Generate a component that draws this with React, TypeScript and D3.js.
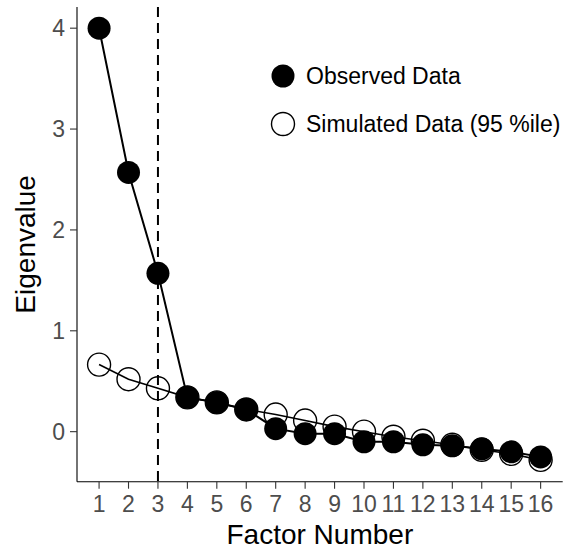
import React from "react";
import * as d3 from "d3";

const factors = [1, 2, 3, 4, 5, 6, 7, 8, 9, 10, 11, 12, 13, 14, 15, 16];
const observed = [4.0, 2.57, 1.57, 0.34, 0.29, 0.22, 0.03, -0.02, -0.02, -0.1, -0.1, -0.13, -0.14, -0.17, -0.2, -0.25];
const simulated = [0.665, 0.52, 0.43, 0.34, 0.29, 0.22, 0.17, 0.11, 0.05, 0.0, -0.05, -0.09, -0.13, -0.18, -0.22, -0.28];
const yTicks = [0, 1, 2, 3, 4];
const cutoff = 3;
const legendLabels = ["Observed Data", "Simulated Data (95 %ile)"];

export default function App() {
  const W = 574, H = 550;
  const left = 77, right = 562.7, top = 7, bottom = 481.7;
  const x = d3.scaleLinear().domain([0.25, 16.75]).range([left, right]);
  const y = d3.scaleLinear().domain([-0.496, 4.21]).range([bottom, top]);
  const line = d3.line<number>().x((_, i) => x(factors[i])).y((d) => y(d));
  const font = "Liberation Sans, Arial, sans-serif";
  const r = 11.5;
  const tickFs = 23;
  const titleFs = 28;
  return (
    <svg width={W} height={H} style={{ position: "absolute", left: 0, top: 0 }} fontFamily={font}>
      <rect width={W} height={H} fill="#fff" />
      <line x1={left} x2={left} y1={top} y2={bottom} stroke="#000" strokeWidth={1.1} />
      <line x1={left} x2={right} y1={bottom} y2={bottom} stroke="#000" strokeWidth={1.1} />
      {yTicks.map((t) => (
        <g key={"y" + t}>
          <line x1={left - 7} x2={left} y1={y(t)} y2={y(t)} stroke="#333" strokeWidth={1.1} />
          <text x={left - 12} y={y(t)} dy="0.36em" textAnchor="end" fontSize={tickFs} fill="#4D4D4D">{t}</text>
        </g>
      ))}
      {factors.map((f) => (
        <g key={"x" + f}>
          <line x1={x(f)} x2={x(f)} y1={bottom} y2={bottom + 7} stroke="#333" strokeWidth={1.1} />
          <text x={x(f)} y={bottom + 30} textAnchor="middle" fontSize={tickFs} fill="#4D4D4D">{f}</text>
        </g>
      ))}
      <text x={(left + right) / 2} y={543.5} textAnchor="middle" fontSize={titleFs} fill="#000">Factor Number</text>
      <text transform={`translate(35,${(top + bottom) / 2}) rotate(-90)`} textAnchor="middle" fontSize={titleFs} fill="#000">Eigenvalue</text>
      <path d={line(simulated) || ""} fill="none" stroke="#000" strokeWidth={1.6} />
      <path d={line(observed) || ""} fill="none" stroke="#000" strokeWidth={2} />
      {simulated.map((v, i) => (
        <circle key={"s" + i} cx={x(factors[i])} cy={y(v)} r={r} fill="none" stroke="#000" strokeWidth={1.4} />
      ))}
      {observed.map((v, i) => (
        <circle key={"o" + i} cx={x(factors[i])} cy={y(v)} r={r} fill="#000" />
      ))}
      <line x1={x(cutoff)} x2={x(cutoff)} y1={top} y2={bottom} stroke="#000" strokeWidth={2} strokeDasharray="10,6" />
      <circle cx={283} cy={76} r={r} fill="#000" />
      <text x={306} y={76} dy="0.36em" fontSize={tickFs} fill="#000">{legendLabels[0]}</text>
      <circle cx={283} cy={124} r={r} fill="none" stroke="#000" strokeWidth={1.4} />
      <text x={306} y={124} dy="0.36em" fontSize={tickFs} fill="#000">{legendLabels[1]}</text>
    </svg>
  );
}
